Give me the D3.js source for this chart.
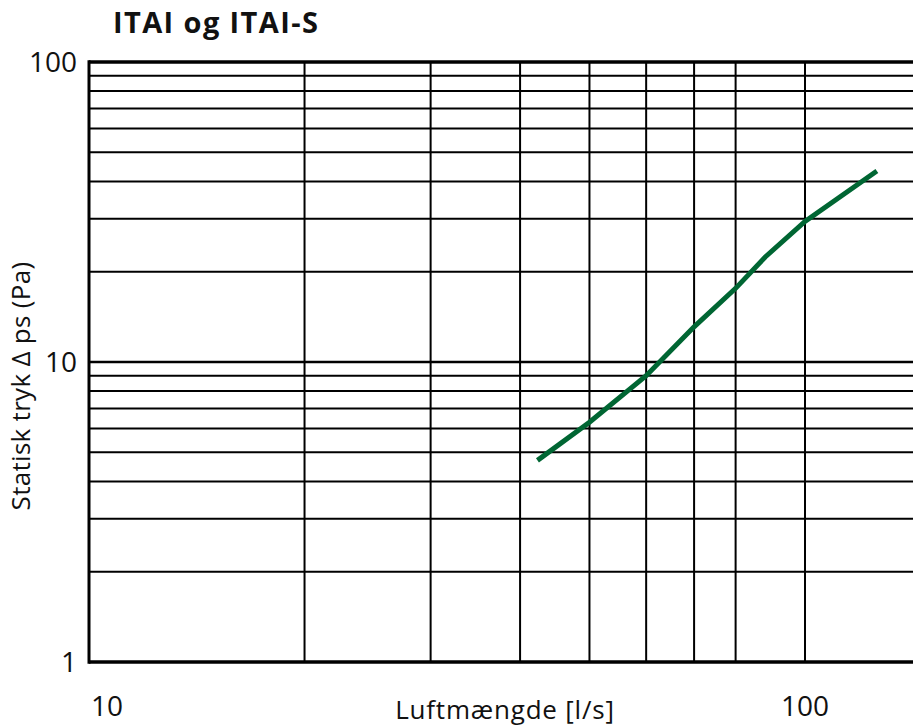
<!DOCTYPE html>
<html>
<head>
<meta charset="utf-8">
<script src="https://cdn.jsdelivr.net/npm/d3@7"></script>
<style>
  body { margin: 0; background: #fff; }
  text { font-family: "Open Sans", "Liberation Sans", Arial, sans-serif; fill: #111; }
</style>
</head>
<body>
<div id="chart-area"></div>
<script>
// data
var flow     = [42.3, 50, 60, 70, 80, 88, 100, 126];     // l/s
var pressure = [4.7, 6.3, 9.0, 13.1, 17.6, 22.4, 29.4, 43.3]; // Pa

var xGrid = [20, 30, 40, 50, 60, 70, 80, 100];
var yGrid = [2, 3, 4, 5, 6, 7, 8, 9, 20, 30, 40, 50, 60, 70, 80, 90];
var xLabels = [10, 100];
var yLabels = [1, 10, 100];

var W = 913, H = 726;
var plotLeft = 89, plotTop = 62, plotBottom = 662;
var decade = 716;

var svg = d3.select("#chart-area")
  .append("svg")
    .attr("width", W)
    .attr("height", H);

var x = d3.scaleLog()
  .domain([10, 150])
  .range([plotLeft, plotLeft + decade * Math.log10(15)]);

var y = d3.scaleLog()
  .domain([1, 100])
  .range([plotBottom, plotTop]);

// grid
svg.append("g").selectAll("line")
  .data(yGrid)
  .enter().append("line")
    .attr("x1", plotLeft).attr("x2", x.range()[1])
    .attr("y1", d => y(d)).attr("y2", d => y(d))
    .attr("stroke", "#000").attr("stroke-width", 2);

svg.append("g").selectAll("line")
  .data(xGrid)
  .enter().append("line")
    .attr("x1", d => x(d)).attr("x2", d => x(d))
    .attr("y1", plotTop).attr("y2", plotBottom)
    .attr("stroke", "#000").attr("stroke-width", 2);

// decade lines, a bit heavier
svg.append("line")
  .attr("x1", plotLeft).attr("x2", x.range()[1])
  .attr("y1", y(10)).attr("y2", y(10))
  .attr("stroke", "#000").attr("stroke-width", 2.5);

svg.append("line")
  .attr("x1", plotLeft).attr("x2", x.range()[1])
  .attr("y1", y(100)).attr("y2", y(100))
  .attr("stroke", "#000").attr("stroke-width", 3.5);

svg.append("line")
  .attr("x1", plotLeft).attr("x2", x.range()[1])
  .attr("y1", y(1)).attr("y2", y(1))
  .attr("stroke", "#000").attr("stroke-width", 3.5);

svg.append("line")
  .attr("x1", x(10)).attr("x2", x(10))
  .attr("y1", plotTop - 1.75).attr("y2", plotBottom + 1.75)
  .attr("stroke", "#000").attr("stroke-width", 3);

// tick labels
svg.append("g").selectAll("text")
  .data(yLabels)
  .enter().append("text")
    .attr("x", 77)
    .attr("y", d => y(d))
    .attr("dy", "0.36em")
    .attr("text-anchor", "end")
    .attr("font-size", "28px")
    .text(d => d);

svg.append("g").selectAll("text")
  .data(xLabels)
  .enter().append("text")
    .attr("x", (d, i) => i == 0 ? x(d) + 2 : x(d))
    .attr("y", 716)
    .attr("text-anchor", (d, i) => i == 0 ? "start" : "middle")
    .attr("font-size", "28px")
    .text(d => d);

// axis titles
svg.append("text")
  .attr("x", 505)
  .attr("y", 719)
  .attr("text-anchor", "middle")
  .attr("font-size", "26px")
  .attr("letter-spacing", "0.8px")
  .text("Luftmængde [l/s]");

svg.append("text")
  .attr("transform", "translate(30, 386) rotate(-90)")
  .attr("text-anchor", "middle")
  .attr("font-size", "26px")
  .attr("letter-spacing", "0.3px")
  .text("Statisk tryk Δ ps (Pa)");

svg.append("text")
  .attr("x", 113)
  .attr("y", 33)
  .attr("font-size", "29px")
  .attr("font-weight", "bold")
  .attr("letter-spacing", "1.4px")
  .text("ITAI og ITAI-S");

// curve
var line = d3.line()
  .x((d, i) => x(flow[i]))
  .y(d => y(d));

svg.append("path")
  .attr("fill", "none")
  .attr("stroke", "#006633")
  .attr("stroke-width", 5)
  .attr("d", line(pressure));
</script>
</body>
</html>
